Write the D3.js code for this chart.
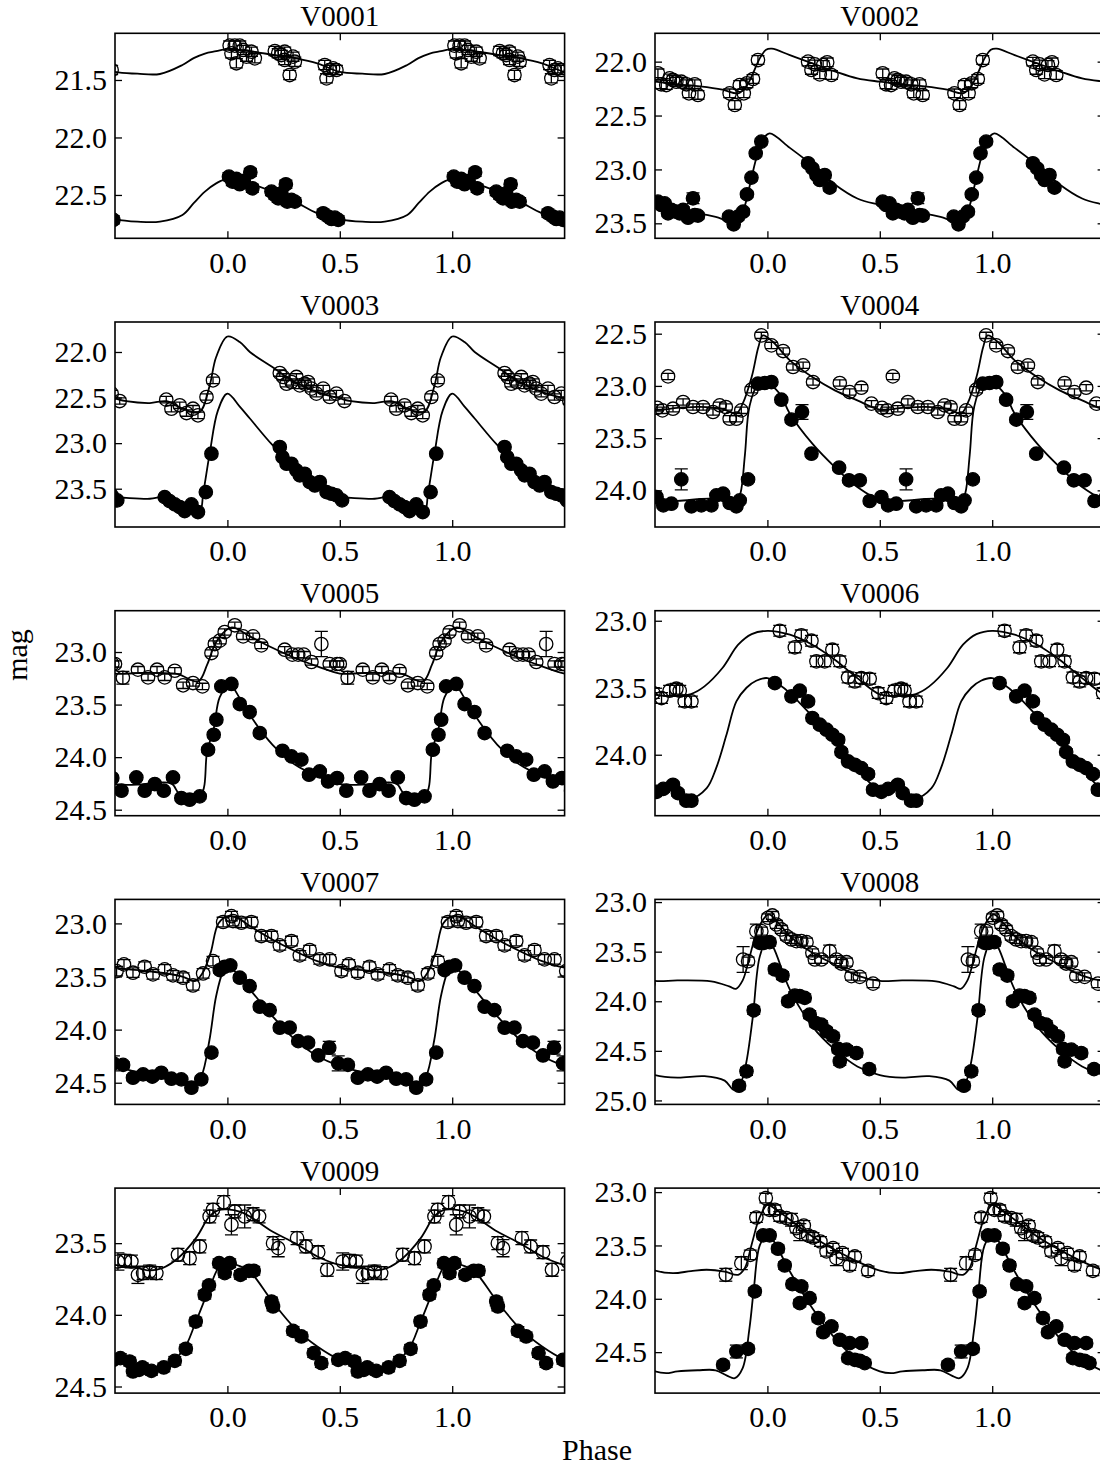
<!DOCTYPE html>
<html><head><meta charset="utf-8">
<script src="https://cdn.jsdelivr.net/npm/d3@7"></script>
<style>body{margin:0;background:#fff}svg{display:block}</style>
</head><body><svg id="c" width="1100" height="1474"></svg>
<script>
// ---------------- DATA ----------------
const stars = ["V0001","V0002","V0003","V0004","V0005","V0006","V0007","V0008","V0009","V0010"];
const phaseTicks = [0.0, 0.5, 1.0];
const phaseRange = [-0.5, 1.5];

// y limits (top, bottom) — magnitude axis inverted
const yLimV0001 = [21.094, 22.877], yLimV0002 = [21.737, 23.639], yLimV0003 = [21.671, 23.92],
      yLimV0004 = [22.388, 24.351], yLimV0005 = [22.607, 24.557], yLimV0006 = [22.925, 24.455],
      yLimV0007 = [22.774, 24.704], yLimV0008 = [22.973, 25.04], yLimV0009 = [23.116, 24.546],
      yLimV0010 = [22.9625, 24.884];
const yTicksV0001 = [21.5, 22.0, 22.5], yTicksV0002 = [22.0, 22.5, 23.0, 23.5], yTicksV0003 = [22.0, 22.5, 23.0, 23.5],
      yTicksV0004 = [22.5, 23.0, 23.5, 24.0], yTicksV0005 = [23.0, 23.5, 24.0, 24.5], yTicksV0006 = [23.0, 23.5, 24.0],
      yTicksV0007 = [23.0, 23.5, 24.0, 24.5], yTicksV0008 = [23.0, 23.5, 24.0, 24.5, 25.0], yTicksV0009 = [23.5, 24.0, 24.5],
      yTicksV0010 = [23.0, 23.5, 24.0, 24.5];

// observations: [phase, mag, (optional error)]
const openV0001 = [[0.010,21.201],[0.033,21.201],[0.055,21.201],[0.018,21.268],[0.040,21.355],[0.070,21.239],[0.085,21.297],[0.107,21.254],[0.122,21.312],[0.211,21.248],[0.226,21.268],[0.240,21.283],[0.255,21.254],[0.255,21.326],[0.277,21.457],[0.292,21.297],[0.300,21.341],[0.433,21.370],[0.441,21.486],[0.455,21.413],[0.470,21.399],[0.485,21.413]];
const fillV0001 = [[0.007,22.341],[0.022,22.384],[0.040,22.361],[0.055,22.407],[0.073,22.378],[0.102,22.303],[0.111,22.442],[0.196,22.471],[0.211,22.5],[0.226,22.529],[0.240,22.486],[0.260,22.407],[0.266,22.558],[0.285,22.543],[0.300,22.558],[0.426,22.659],[0.448,22.688],[0.463,22.709],[0.478,22.697],[0.493,22.717]];
const openV0002 = [[0.513,22.108],[0.528,22.21],[0.550,22.217],[0.565,22.155],[0.580,22.17],[0.595,22.186],[0.617,22.186],[0.640,22.21],[0.651,22.294],[0.677,22.21],[0.691,22.309],[0.832,22.294],[0.855,22.402],[0.877,22.217],[0.895,22.294],[0.909,22.201],[0.936,22.161],[0.958,21.985],[0.181,22.0],[0.196,22.077],[0.211,22.025],[0.233,22.118],[0.248,22.031],[0.266,22.006],[0.285,22.124]];
const fillV0002 = [[0.513,23.299],[0.528,23.33],[0.543,23.315],[0.558,23.407],[0.573,23.376],[0.595,23.392],[0.610,23.407],[0.625,23.376],[0.647,23.448],[0.669,23.268,0.05],[0.677,23.423],[0.691,23.429],[0.829,23.438],[0.850,23.509],[0.869,23.438],[0.892,23.392],[0.909,23.231],[0.929,23.076],[0.948,22.851],[0.973,22.742],[0.181,22.943],[0.200,22.99],[0.218,23.052],[0.233,23.098],[0.255,23.052],[0.277,23.169]];
const openV0003 = [[0.521,22.538],[0.728,22.523],[0.751,22.622],[0.788,22.585],[0.818,22.67],[0.847,22.622],[0.869,22.695],[0.907,22.494],[0.936,22.311],[0.233,22.231],[0.248,22.274],[0.263,22.348],[0.285,22.329],[0.307,22.274],[0.322,22.366],[0.344,22.348],[0.359,22.329],[0.374,22.402],[0.396,22.457],[0.426,22.402],[0.455,22.494],[0.485,22.457]];
const fillV0003 = [[0.51,23.628],[0.721,23.592],[0.743,23.636],[0.766,23.672],[0.788,23.701],[0.810,23.745],[0.840,23.672],[0.869,23.756],[0.904,23.537],[0.929,23.116],[0.233,23.043],[0.245,23.153],[0.263,23.226],[0.285,23.226],[0.307,23.299],[0.322,23.354],[0.344,23.336],[0.366,23.427],[0.389,23.464],[0.411,23.427],[0.441,23.537],[0.463,23.555],[0.485,23.573]];
const openV0004 = [[0.51,23.21],[0.533,23.234],[0.558,22.909,0.03],[0.580,23.218],[0.625,23.154],[0.669,23.202],[0.714,23.202],[0.758,23.25],[0.788,23.186],[0.815,23.202],[0.832,23.314],[0.862,23.314],[0.884,23.234],[0.929,23.036],[0.973,22.516],[0.018,22.612],[0.070,22.666],[0.114,22.819],[0.159,22.803],[0.203,22.963],[0.322,22.972],[0.366,23.059],[0.418,23.017],[0.463,23.17]];
const fillV0004 = [[0.507,24.064],[0.537,24.144],[0.573,24.128],[0.617,23.895,0.1],[0.662,24.153],[0.706,24.144],[0.751,24.144],[0.773,24.048],[0.803,24.032],[0.832,24.121],[0.862,24.153],[0.877,24.096],[0.914,23.895],[0.958,22.979],[0.988,22.972],[0.018,22.963],[0.062,23.132],[0.107,23.323],[0.154,23.25,0.07],[0.196,23.649],[0.319,23.783],[0.363,23.904],[0.411,23.904],[0.455,24.102]];
const openV0005 = [[0.50,23.114],[0.535,23.245,0.06],[0.602,23.168],[0.647,23.241],[0.687,23.168],[0.721,23.241],[0.766,23.178],[0.803,23.317],[0.847,23.295],[0.889,23.327],[0.929,23.01],[0.944,22.924],[0.966,22.892],[0.988,22.81],[0.033,22.746],[0.070,22.851],[0.114,22.851],[0.151,22.937],[0.255,22.978],[0.289,23.025],[0.315,23.025],[0.340,23.025],[0.374,23.095],[0.418,22.924,0.12],[0.455,23.114],[0.488,23.114]];
const fillV0005 = [[0.529,24.319],[0.595,24.193],[0.632,24.319],[0.677,24.256],[0.717,24.319],[0.758,24.193],[0.795,24.389],[0.832,24.405],[0.877,24.373],[0.914,23.929],[0.939,23.787],[0.951,23.644],[0.973,23.327],[0.018,23.304],[0.055,23.495],[0.099,23.571],[0.144,23.771],[0.245,23.939],[0.285,23.993],[0.329,24.024],[0.363,24.167],[0.411,24.135],[0.448,24.231],[0.488,24.199]];
const openV0006 = [[0.529,23.577],[0.565,23.522],[0.595,23.507],[0.610,23.522],[0.632,23.602],[0.662,23.602],[0.055,23.075],[0.122,23.199],[0.151,23.109],[0.196,23.149],[0.218,23.303],[0.255,23.303],[0.289,23.216],[0.322,23.303],[0.359,23.423],[0.389,23.453],[0.418,23.428],[0.455,23.433],[0.493,23.54]];
const fillV0006 = [[0.507,24.277],[0.537,24.255],[0.580,24.224],[0.602,24.286],[0.639,24.343],[0.662,24.343],[0.033,23.465],[0.107,23.565],[0.144,23.522],[0.181,23.602],[0.200,23.726],[0.233,23.776],[0.263,23.813],[0.289,23.851],[0.315,23.888],[0.329,23.98],[0.359,24.05],[0.389,24.075],[0.418,24.1],[0.448,24.144],[0.470,24.261]];
const openV0007 = [[0.507,23.449],[0.54,23.386],[0.580,23.464],[0.632,23.408],[0.669,23.48],[0.721,23.433],[0.758,23.489],[0.803,23.511],[0.847,23.584],[0.892,23.471],[0.936,23.355],[0.981,22.987],[0.018,22.931],[0.025,22.978],[0.062,22.994],[0.107,22.987],[0.151,23.119],[0.196,23.119],[0.233,23.207],[0.285,23.166],[0.322,23.301],[0.366,23.251],[0.411,23.339],[0.455,23.339]];
const fillV0007 = [[0.536,24.332],[0.580,24.453],[0.625,24.421],[0.666,24.443],[0.706,24.406],[0.751,24.462],[0.795,24.468],[0.840,24.547],[0.884,24.468],[0.929,24.217],[0.966,23.439],[0.988,23.408],[0.013,23.395],[0.055,23.511],[0.099,23.59],[0.144,23.784],[0.188,23.816],[0.233,23.982],[0.277,23.982],[0.315,24.108],[0.359,24.123],[0.404,24.243],[0.453,24.17,0.06],[0.493,24.318,0.07]];
const openV0008 = [[0.892,23.579,0.13],[0.914,23.596],[0.951,23.293,0.07],[0.973,23.293],[0.003,23.158],[0.022,23.135],[0.040,23.226],[0.062,23.276],[0.085,23.343],[0.107,23.377],[0.129,23.394],[0.151,23.394],[0.174,23.404],[0.200,23.512],[0.211,23.579],[0.240,23.579],[0.277,23.495,0.06],[0.307,23.579],[0.329,23.62],[0.352,23.606],[0.374,23.747],[0.411,23.754],[0.470,23.822]];
const fillV0008 = [[0.874,24.852],[0.907,24.707],[0.939,24.091],[0.966,23.411],[0.985,23.411],[0.010,23.404],[0.033,23.68],[0.067,23.741],[0.092,24.0],[0.122,23.943],[0.144,23.949],[0.166,23.966],[0.188,24.135],[0.215,24.219],[0.240,24.236],[0.263,24.303],[0.292,24.354],[0.315,24.481],[0.322,24.606],[0.352,24.488],[0.396,24.522],[0.453,24.684]];
const openV0009 = [[0.513,23.628,0.06],[0.543,23.623],[0.573,23.628],[0.602,23.721,0.06],[0.625,23.709],[0.654,23.698],[0.684,23.709],[0.780,23.581],[0.832,23.605],[0.877,23.523],[0.921,23.314],[0.936,23.267],[0.984,23.214],[0.018,23.372,0.07],[0.033,23.279],[0.077,23.314,0.08],[0.114,23.298],[0.141,23.314],[0.203,23.5],[0.226,23.535,0.06],[0.310,23.465],[0.349,23.523],[0.404,23.563],[0.444,23.686]];
const fillV0009 = [[0.524,24.302],[0.565,24.326],[0.580,24.395],[0.607,24.384],[0.622,24.367],[0.662,24.391],[0.717,24.367],[0.766,24.321],[0.815,24.237],[0.859,24.047],[0.899,23.86],[0.918,23.795],[0.963,23.64],[0.988,23.709],[0.010,23.64],[0.058,23.721],[0.096,23.693],[0.117,23.693],[0.196,23.907],[0.203,23.942],[0.292,24.112],[0.329,24.151],[0.384,24.267],[0.418,24.337],[0.493,24.314]];
const openV0010 = [[0.815,23.775,0.06],[0.884,23.666,0.06],[0.924,23.588],[0.951,23.238],[0.993,23.056],[0.010,23.166],[0.033,23.166],[0.055,23.228],[0.085,23.244],[0.107,23.259,0.06],[0.129,23.338],[0.144,23.375,0.08],[0.162,23.313],[0.181,23.406],[0.203,23.425],[0.236,23.463],[0.263,23.556],[0.292,23.525],[0.307,23.619,0.07],[0.334,23.572],[0.366,23.688],[0.389,23.603],[0.448,23.738]];
const fillV0010 = [[0.803,24.619],[0.862,24.494,0.06],[0.914,24.469],[0.944,23.931],[0.981,23.406],[0.010,23.406],[0.047,23.531],[0.077,23.688],[0.111,23.863],[0.151,23.884],[0.144,24.041],[0.188,23.994],[0.226,24.181],[0.248,24.313],[0.285,24.259],[0.322,24.384],[0.366,24.416],[0.418,24.416],[0.359,24.556],[0.389,24.572],[0.411,24.581],[0.433,24.603]];

// default photometric errors per series
const errOpen = [0.04, 0.04, 0.035, 0.03, 0.03, 0.04, 0.045, 0.04, 0.045, 0.045];
const errFill = [0.035, 0.03, 0.025, 0.025, 0.025, 0.025, 0.03, 0.04, 0.03, 0.035];

// template light curves over one cycle: [phase, mag]
const tplOpenV0001 = [[0,21.23],[0.1,21.25],[0.2,21.28],[0.3,21.31],[0.4,21.355],[0.5,21.43],[0.6,21.445],[0.7,21.448],[0.8,21.37],[0.85,21.31],[0.9,21.27],[0.95,21.25]];
const tplFillV0001 = [[0,22.36],[0.1,22.4],[0.2,22.471],[0.3,22.558],[0.4,22.659],[0.5,22.712],[0.6,22.732],[0.7,22.732],[0.8,22.674],[0.85,22.572],[0.9,22.471],[0.95,22.399]];
const tplOpenV0002 = [[0.02,21.88],[0.1,21.94],[0.2,22.015],[0.3,22.09],[0.4,22.155],[0.5,22.186],[0.6,22.21],[0.7,22.23],[0.8,22.26],[0.87,22.294],[0.906,22.23],[0.936,22.108],[0.966,21.97],[0.994,21.89]];
const tplFillV0002 = [[0.01,22.665],[0.1,22.80],[0.2,22.96],[0.3,23.14],[0.4,23.27],[0.5,23.33],[0.6,23.38],[0.7,23.41],[0.77,23.44],[0.85,23.485],[0.89,23.39],[0.918,23.18],[0.95,22.9],[0.98,22.72]];
const tplOpenV0003 = [[0,21.83],[0.055,21.89],[0.1,22.0],[0.2,22.165],[0.3,22.33],[0.4,22.44],[0.5,22.51],[0.55,22.54],[0.655,22.56],[0.73,22.54],[0.8,22.62],[0.875,22.66],[0.92,22.38],[0.95,22.055]];
const tplFillV0003 = [[0,22.457],[0.055,22.6],[0.1,22.73],[0.2,23.02],[0.3,23.26],[0.4,23.445],[0.5,23.59],[0.55,23.6],[0.655,23.61],[0.73,23.59],[0.8,23.68],[0.877,23.738],[0.892,23.555],[0.921,23.116],[0.958,22.64]];
const tplOpenV0004 = [[0.025,22.58],[0.1,22.755],[0.2,22.915],[0.3,23.043],[0.4,23.138],[0.5,23.226],[0.6,23.21],[0.7,23.2],[0.8,23.22],[0.86,23.266],[0.89,23.17],[0.93,22.915],[0.96,22.628],[0.98,22.516]];
const tplFillV0004 = [[0,22.975],[0.055,23.075],[0.1,23.266],[0.2,23.553],[0.3,23.777],[0.4,23.968],[0.5,24.09],[0.6,24.1],[0.75,24.08],[0.86,24.12],[0.88,24.03],[0.9,23.66],[0.92,23.2],[0.955,23.0]];
const tplOpenV0005 = [[0.02,22.765],[0.1,22.851],[0.2,22.96],[0.3,23.057],[0.4,23.136],[0.5,23.205],[0.6,23.2],[0.7,23.2],[0.78,23.21],[0.87,23.28],[0.91,23.12],[0.944,22.93],[0.98,22.82]];
const tplFillV0005 = [[0.01,23.31],[0.055,23.44],[0.1,23.6],[0.2,23.88],[0.3,24.07],[0.4,24.18],[0.5,24.256],[0.6,24.262],[0.75,24.25],[0.79,24.357],[0.88,24.36],[0.91,23.945],[0.94,23.72],[0.966,23.43]];
const tplOpenV0006 = [[0,23.075],[0.1,23.104],[0.2,23.179],[0.3,23.291],[0.4,23.428],[0.5,23.55],[0.57,23.56],[0.66,23.547],[0.72,23.49],[0.8,23.353],[0.87,23.179],[0.93,23.10]];
const tplFillV0006 = [[0,23.428],[0.055,23.48],[0.1,23.54],[0.2,23.714],[0.3,23.9],[0.4,24.1],[0.5,24.269],[0.58,24.25],[0.66,24.323],[0.73,24.249],[0.772,24.1],[0.818,23.851],[0.862,23.602],[0.907,23.5],[0.95,23.448]];
const tplOpenV0007 = [[0.003,22.931],[0.055,22.96],[0.1,23.025],[0.2,23.151],[0.3,23.26],[0.4,23.355],[0.5,23.417],[0.65,23.45],[0.8,23.5],[0.855,23.543],[0.89,23.465],[0.925,23.28],[0.96,23.0]];
const tplFillV0007 = [[0.003,23.408],[0.055,23.5],[0.1,23.621],[0.2,23.872],[0.3,24.092],[0.4,24.249],[0.5,24.343],[0.55,24.374],[0.63,24.41],[0.77,24.44],[0.84,24.563],[0.884,24.44],[0.92,24.1],[0.95,23.684],[0.98,23.46]];
const tplOpenV0008 = [[0.007,23.125],[0.055,23.226],[0.1,23.343],[0.2,23.512],[0.3,23.63],[0.4,23.741],[0.5,23.795],[0.6,23.79],[0.75,23.8],[0.83,23.85],[0.86,23.875],[0.89,23.79],[0.92,23.56],[0.95,23.32],[0.98,23.18]];
const tplFillV0008 = [[0,23.38],[0.025,23.45],[0.1,23.882],[0.2,24.253],[0.3,24.488],[0.4,24.657],[0.5,24.745],[0.6,24.77],[0.72,24.755],[0.81,24.8],[0.85,24.892],[0.88,24.83],[0.905,24.63],[0.935,24.16],[0.966,23.55]];
const tplOpenV0009 = [[0,23.265],[0.055,23.28],[0.1,23.314],[0.2,23.419],[0.3,23.5],[0.4,23.593],[0.5,23.652],[0.58,23.665],[0.65,23.69],[0.71,23.674],[0.78,23.605],[0.86,23.465],[0.92,23.314],[0.96,23.27]];
const tplFillV0009 = [[0,23.64],[0.055,23.66],[0.1,23.698],[0.2,23.907],[0.3,24.093],[0.4,24.221],[0.5,24.314],[0.58,24.36],[0.65,24.384],[0.72,24.35],[0.8,24.256],[0.86,24.047],[0.92,23.814],[0.966,23.66]];
const tplOpenV0010 = [[0,23.12],[0.03,23.15],[0.1,23.259],[0.2,23.416],[0.3,23.541],[0.4,23.65],[0.5,23.735],[0.58,23.76],[0.66,23.74],[0.73,23.728],[0.81,23.745],[0.87,23.775],[0.9,23.71],[0.93,23.49],[0.965,23.24]];
const tplFillV0010 = [[0,23.4],[0.025,23.45],[0.1,23.744],[0.2,24.088],[0.3,24.369],[0.4,24.572],[0.5,24.68],[0.55,24.697],[0.6,24.68],[0.69,24.67],[0.77,24.67],[0.82,24.72],[0.855,24.744],[0.89,24.65],[0.92,24.28],[0.94,23.9],[0.966,23.5]];

const xLabel = "Phase", yLabel = "mag";

// ---------------- LAYOUT ----------------
const panels = [
  {yLim: yLimV0001, yTicks: yTicksV0001, open: openV0001, fill: fillV0001, tOpen: tplOpenV0001, tFill: tplFillV0001},
  {yLim: yLimV0002, yTicks: yTicksV0002, open: openV0002, fill: fillV0002, tOpen: tplOpenV0002, tFill: tplFillV0002},
  {yLim: yLimV0003, yTicks: yTicksV0003, open: openV0003, fill: fillV0003, tOpen: tplOpenV0003, tFill: tplFillV0003},
  {yLim: yLimV0004, yTicks: yTicksV0004, open: openV0004, fill: fillV0004, tOpen: tplOpenV0004, tFill: tplFillV0004},
  {yLim: yLimV0005, yTicks: yTicksV0005, open: openV0005, fill: fillV0005, tOpen: tplOpenV0005, tFill: tplFillV0005},
  {yLim: yLimV0006, yTicks: yTicksV0006, open: openV0006, fill: fillV0006, tOpen: tplOpenV0006, tFill: tplFillV0006},
  {yLim: yLimV0007, yTicks: yTicksV0007, open: openV0007, fill: fillV0007, tOpen: tplOpenV0007, tFill: tplFillV0007},
  {yLim: yLimV0008, yTicks: yTicksV0008, open: openV0008, fill: fillV0008, tOpen: tplOpenV0008, tFill: tplFillV0008},
  {yLim: yLimV0009, yTicks: yTicksV0009, open: openV0009, fill: fillV0009, tOpen: tplOpenV0009, tFill: tplFillV0009},
  {yLim: yLimV0010, yTicks: yTicksV0010, open: openV0010, fill: fillV0010, tOpen: tplOpenV0010, tFill: tplFillV0010}
];

const FONT = "'Liberation Serif','DejaVu Serif',serif";
const FS = 30;
const COLX = [115, 655], PW = 449.6, ROW0 = 33.3, PITCH = 288.7, PH = 205;
const R = 6.7, CAP = 6.5, TICK = 7;

const svg = d3.select("#c");
const defs = svg.append("defs");

function expand(pts, def) {
  const out = [];
  for (const k of [-1, 0, 1]) for (const p of pts) {
    const x = p[0] + k;
    if (x >= -0.56 && x <= 1.56) out.push({x: x, m: p[1], e: p.length > 2 ? p[2] : def});
  }
  return out;
}
function expandTpl(pts) {
  const out = [];
  for (const k of [-1, 0, 1, 2]) for (const p of pts) {
    const x = p[0] + k;
    if (x >= -0.75 && x <= 1.75) out.push([x, p[1]]);
  }
  return out.sort((a, b) => a[0] - b[0]);
}

panels.forEach((pn, i) => {
  const col = i % 2, row = Math.floor(i / 2);
  const x0 = COLX[col], top = ROW0 + row * PITCH;
  const x = d3.scaleLinear().domain(phaseRange).range([x0, x0 + PW]);
  const y = d3.scaleLinear().domain(pn.yLim).range([top, top + PH]);
  const g = svg.append("g");
  const cid = "clip" + i;
  defs.append("clipPath").attr("id", cid).append("rect")
    .attr("x", x0).attr("y", top).attr("width", PW).attr("height", PH);
  const plot = g.append("g").attr("clip-path", `url(#${cid})`);

  const line = d3.line().x(d => x(d[0])).y(d => y(d[1])).curve(d3.curveCatmullRom.alpha(0.5));
  [pn.tOpen, pn.tFill].forEach(t => {
    plot.append("path").attr("d", line(expandTpl(t)))
      .attr("fill", "none").attr("stroke", "#000").attr("stroke-width", 1.8);
  });

  [[pn.open, errOpen[i], "none"], [pn.fill, errFill[i], "#000"]].forEach(([pts, def, fill]) => {
    const data = expand(pts, def);
    const eb = plot.append("g").attr("stroke", "#000").attr("stroke-width", 1.3);
    eb.selectAll("line.v").data(data).join("line").attr("class", "v")
      .attr("x1", d => x(d.x)).attr("x2", d => x(d.x))
      .attr("y1", d => y(d.m - d.e)).attr("y2", d => y(d.m + d.e));
    eb.selectAll("line.t").data(data).join("line").attr("class", "t")
      .attr("x1", d => x(d.x) - CAP).attr("x2", d => x(d.x) + CAP)
      .attr("y1", d => y(d.m - d.e)).attr("y2", d => y(d.m - d.e));
    eb.selectAll("line.b").data(data).join("line").attr("class", "b")
      .attr("x1", d => x(d.x) - CAP).attr("x2", d => x(d.x) + CAP)
      .attr("y1", d => y(d.m + d.e)).attr("y2", d => y(d.m + d.e));
    plot.append("g").selectAll("circle").data(data).join("circle")
      .attr("cx", d => x(d.x)).attr("cy", d => y(d.m)).attr("r", R)
      .attr("fill", fill).attr("stroke", "#000").attr("stroke-width", 1.3);
  });

  // axes
  const fmt = d3.format(".1f");
  const styleAxis = a => {
    a.select(".domain").remove();
    a.selectAll(".tick line").attr("stroke-width", 1.3);
    a.attr("font-family", FONT).attr("font-size", FS);
  };
  g.append("g").attr("transform", `translate(${x0},0)`)
    .call(d3.axisLeft(y).tickValues(pn.yTicks).tickFormat(fmt).tickSize(-TICK).tickPadding(8)).call(styleAxis);
  g.append("g").attr("transform", `translate(${x0 + PW},0)`)
    .call(d3.axisRight(y).tickValues(pn.yTicks).tickFormat("").tickSize(-TICK)).call(styleAxis);
  g.append("g").attr("transform", `translate(0,${top + PH})`)
    .call(d3.axisBottom(x).tickValues(phaseTicks).tickFormat(fmt).tickSize(-TICK).tickPadding(13)).call(styleAxis);
  g.append("g").attr("transform", `translate(0,${top})`)
    .call(d3.axisTop(x).tickValues(phaseTicks).tickFormat("").tickSize(-TICK)).call(styleAxis);

  g.append("rect").attr("x", x0).attr("y", top).attr("width", PW).attr("height", PH)
    .attr("fill", "none").attr("stroke", "#000").attr("stroke-width", 1.6);

  g.append("text").attr("x", x0 + PW / 2).attr("y", top - 7.5)
    .attr("text-anchor", "middle").attr("font-family", FONT).attr("font-size", 29)
    .text(stars[i]);
});

svg.append("text").attr("x", 597).attr("y", 1460).attr("text-anchor", "middle")
  .attr("font-family", FONT).attr("font-size", FS).text(xLabel);
svg.append("text").attr("transform", "translate(27,655) rotate(-90)").attr("text-anchor", "middle")
  .attr("font-family", FONT).attr("font-size", FS).text(yLabel);
</script></body></html>
